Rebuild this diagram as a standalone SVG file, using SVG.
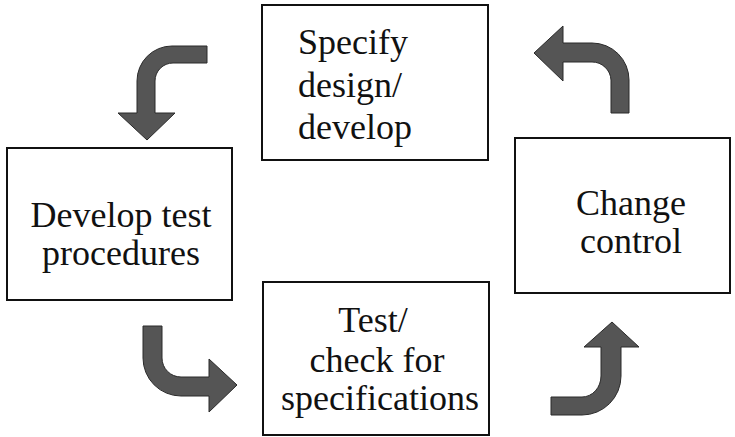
<svg xmlns="http://www.w3.org/2000/svg" width="735" height="437" viewBox="0 0 735 437">
  <style>
    .box { fill: #ffffff; stroke: #111111; stroke-width: 2; }
    .label { font-family: "Times New Roman", "Liberation Serif", Tinos, "Noto Serif", "DejaVu Serif", FreeSerif, Times, serif; font-size: 36px; fill: #111111; }
    .mid { text-anchor: middle; }
    .arrow { fill: #555555; stroke: #2a2a2a; stroke-width: 1; stroke-linejoin: miter; }
  </style>
  <rect width="735" height="437" fill="#ffffff"/>

  <g id="specify">
    <rect class="box" x="262" y="5" width="226" height="155"/>
    <text class="label" x="298" y="54">Specify</text>
    <text class="label" x="298" y="97">design/</text>
    <text class="label" x="298" y="139">develop</text>
  </g>

  <g id="develop-test">
    <rect class="box" x="7" y="148" width="225" height="152"/>
    <text class="label mid" x="121" y="227">Develop test</text>
    <text class="label mid" x="121" y="265">procedures</text>
  </g>

  <g id="change-control">
    <rect class="box" x="515" y="138" width="215" height="155"/>
    <text class="label mid" x="631" y="215">Change</text>
    <text class="label mid" x="631" y="253">control</text>
  </g>

  <g id="test-check">
    <rect class="box" x="263" y="282" width="226" height="153"/>
    <text class="label mid" x="373" y="332">Test/</text>
    <text class="label mid" x="377" y="372">check for</text>
    <text class="label mid" x="380" y="410">specifications</text>
  </g>

  <g id="connectors">
    <!-- specify -> develop test -->
    <path class="arrow" d="M207,46 L172,46 A35,35 0 0 0 137,81 L137,113 L118,113 L147,140 L175,113 L155,113 L155,81 A18,18 0 0 1 173,63 L207,63 Z"/>
    <!-- develop test -> test/check -->
    <path class="arrow" d="M143,326 L162,326 L162,358 A19,19 0 0 0 181,377 L209,377 L209,359 L237,385 L209,412 L209,396 L181,396 A38,38 0 0 1 143,358 Z"/>
    <!-- test/check -> change control -->
    <path class="arrow" d="M551,397 L582,397 A19,21 0 0 0 601,376 L601,347 L584,347 L612,322 L639,347 L621,347 L621,376 A39,39 0 0 1 582,415 L551,415 Z"/>
    <!-- change control -> specify -->
    <path class="arrow" d="M534,53 L563,26 L563,43 L592,43 A37,37 0 0 1 629,80 L629,113 L611,113 L611,80 A19,19 0 0 0 592,62 L563,62 L563,81 Z"/>
  </g>
</svg>
